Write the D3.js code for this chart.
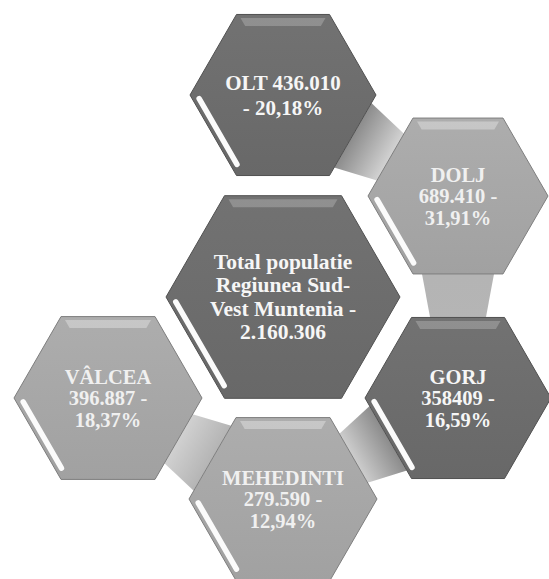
<!DOCTYPE html>
<html lang="ro">
<head>
  <meta charset="UTF-8" />
  <title>Populatie Regiunea Sud-Vest Muntenia</title>
  <script src="https://d3js.org/d3.v7.min.js"></script>
  <style>
    body { margin: 0; background: #fff; }
    svg { display: block; }
    text { font-family: "Liberation Serif", "DejaVu Serif", serif; font-weight: bold; }
  </style>
</head>
<body>
  <svg width="549" height="579"></svg>
  <script>
    // date
    const judete = ["OLT", "DOLJ", "VÂLCEA", "GORJ", "MEHEDINTI"];
    const populatie = [436010, 689410, 396887, 358409, 279590];
    const procente = [20.18, 31.91, 18.37, 16.59, 12.94];
    const totalRegiune = 2160306;
    const etichete = [
      ["OLT 436.010", "- 20,18%"],
      ["DOLJ", "689.410 -", "31,91%"],
      ["VÂLCEA", "396.887 -", "18,37%"],
      ["GORJ", "358409 -", "16,59%"],
      ["MEHEDINTI", "279.590 -", "12,94%"]
    ];
    const etichetaTotal = ["Total populatie", "Regiunea Sud-", "Vest Muntenia -", "2.160.306"];

    // asezare in grila (coloana, rand) si legaturi
    const grila = [[1, 0], [2, 1], [0, 3], [2, 3], [1, 4]];
    const grilaTotal = [1, 2];
    const ton = ["dark", "light", "light", "dark", "light"];
    const raza = [93, 90, 94, 93, 94];
    const legaturi = [[0, 1], [1, 3], [3, 4], [4, 2]];

    const svg = d3.select("svg");
    const x = d3.scaleLinear().domain([0, 2]).range([108, 458]);
    const y = d3.scaleLinear().domain([0, 4]).range([95, 499]);

    const defs = svg.append("defs");
    const grad = (id, c1, c2) => {
      const g = defs.append("linearGradient").attr("id", id)
        .attr("x1", 0).attr("y1", 0).attr("x2", 0).attr("y2", 1);
      g.append("stop").attr("offset", "0%").attr("stop-color", c1);
      g.append("stop").attr("offset", "100%").attr("stop-color", c2);
    };
    grad("dark", "#727272", "#686868");
    grad("light", "#adadad", "#a1a1a1");

    const nodes = judete.map((d, i) => ({
      name: d, value: populatie[i], pct: procente[i], lines: etichete[i],
      cx: x(grila[i][0]), cy: y(grila[i][1]), r: raza[i], tone: ton[i]
    }));
    const total = {
      name: "Total", value: totalRegiune, lines: etichetaTotal,
      cx: x(grilaTotal[0]), cy: y(grilaTotal[1]), r: 117, tone: "dark"
    };

    const vertex = (n, k, inset = 0) => {
      const a = k * Math.PI / 3;
      return [n.cx + (n.r - inset) * Math.cos(a), n.cy + (n.r - inset) * Math.sin(a)];
    };
    const hexPath = (n, inset = 0) =>
      "M" + d3.range(6).map(k => vertex(n, k, inset).join(",")).join("L") + "Z";
    const lerp = (p, q, t) => [p[0] + (q[0] - p[0]) * t, p[1] + (q[1] - p[1]) * t];

    // legaturi intre hexagoane
    const gLinks = svg.append("g");
    legaturi.forEach(([a, b], i) => {
      const A = nodes[a], B = nodes[b];
      const ang = Math.atan2(B.cy - A.cy, B.cx - A.cx);
      const kA = Math.round((ang / (Math.PI / 3)) - 0.5 + 6) % 6;
      const a1 = vertex(A, kA), a2 = vertex(A, (kA + 1) % 6);
      const b1 = vertex(B, (kA + 3) % 6), b2 = vertex(B, (kA + 4) % 6);
      const p1 = lerp(a1, a2, 0.1), p2 = lerp(a2, a1, 0.1);
      const q1 = lerp(b1, b2, 0.2), q2 = lerp(b2, b1, 0.2);
      const id = "lnk" + i;
      const g = defs.append("linearGradient").attr("id", id)
        .attr("gradientUnits", "userSpaceOnUse")
        .attr("x1", A.cx).attr("y1", A.cy).attr("x2", B.cx).attr("y2", B.cy);
      g.append("stop").attr("offset", "40%").attr("stop-color", A.tone === "dark" ? "#8c8c8c" : "#b4b4b4");
      g.append("stop").attr("offset", "62%").attr("stop-color", B.tone === "dark" ? "#b5b5b5" : "#d4d4d4");
      gLinks.append("path")
        .attr("d", "M" + [p1, p2, q1, q2].map(p => p.join(",")).join("L") + "Z")
        .attr("fill", `url(#${id})`);
    });

    // hexagoane
    const all = [total, ...nodes];
    const hex = svg.append("g").selectAll("g").data(all).join("g");

    hex.append("path")
      .attr("d", d => hexPath(d))
      .attr("fill", d => `url(#${d.tone})`)
      .attr("stroke", d => d.tone === "dark" ? "#505050" : "#7e7e7e")
      .attr("stroke-width", 1);

    // linie de lumina sus
    hex.append("path")
      .attr("d", d => {
        const p1 = vertex(d, 4, 4), p2 = vertex(d, 5, 4);
        const h = 8;
        return `M${p1[0] + 2},${p1[1]}L${p2[0] - 2},${p2[1]}L${p2[0] - 2 - h * 0.58},${p2[1] + h}L${p1[0] + 2 + h * 0.58},${p1[1] + h}Z`;
      })
      .attr("fill", d => d.tone === "dark" ? "#979797" : "#cdcdcd")
      .attr("opacity", 0.8);

    // bevel alb stanga-jos
    hex.append("line")
      .each(function (d) {
        const p = lerp(vertex(d, 3, 7), vertex(d, 2, 7), 0.05);
        const q = lerp(vertex(d, 3, 7), vertex(d, 2, 7), 0.93);
        d3.select(this)
          .attr("x1", p[0]).attr("y1", p[1])
          .attr("x2", q[0]).attr("y2", q[1]);
      })
      .attr("stroke", "#fbfbfb")
      .attr("stroke-width", 5.5)
      .attr("stroke-linecap", "round");

    // text
    hex.append("text")
      .attr("text-anchor", "middle")
      .attr("fill", d => d.tone === "dark" ? "#f6f6f6" : "#f0f0f0")
      .attr("font-size", d => d === total ? 21.5 : (d.name === "OLT" ? 21 : 20.5))
      .each(function (d) {
        const lh = d === total ? 23.5 : (d.name === "OLT" ? 25 : 21.5);
        const n = d.lines.length;
        d3.select(this).selectAll("tspan").data(d.lines).join("tspan")
          .attr("x", d.cx)
          .attr("y", (l, i) => d.cy + (i - (n - 1) / 2) * lh + 7)
          .text(l => l);
      });
  </script>
</body>
</html>
